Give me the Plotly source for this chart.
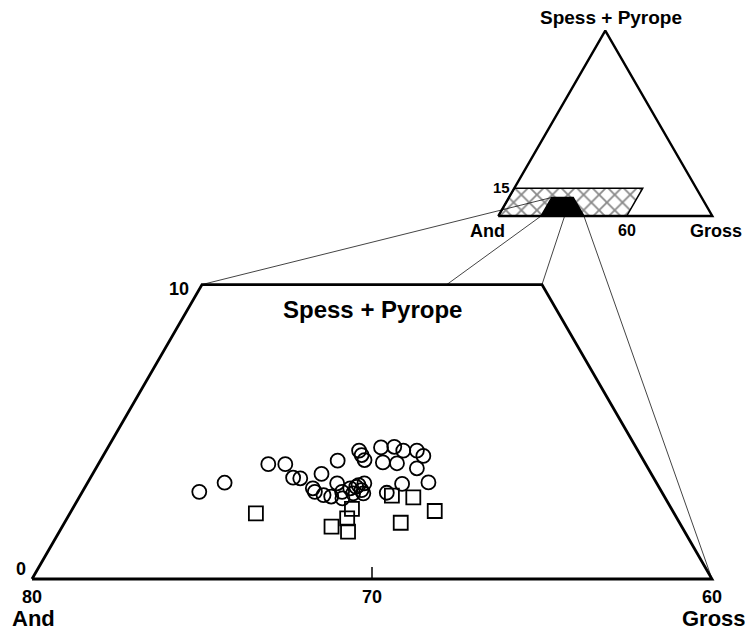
import numpy as np
import plotly.graph_objects as go

# ---------------- data (ternary percentages) ----------------
# sample points: Andradite % and Spessartine+Pyrope %, Grossular = 100 - And - SP
circle_and = [73.6, 72.7, 71.1, 70.6, 70.6, 70.4, 69.7, 69.0, 68.2, 68.2, 68.2, 67.5,
              67.1, 66.9, 66.5, 66.4, 67.7, 67.3, 66.8, 66.7, 67.5, 68.1, 70.2, 70.2,
              70.0, 69.8, 69.4, 69.5, 69.4, 69.1, 68.9, 68.8, 68.6, 68.8, 69.1, 68.8]
circle_sp = [2.96, 3.27, 3.90, 3.90, 3.44, 3.42, 3.57, 4.02, 4.36, 4.21, 4.04, 4.47,
             4.49, 4.36, 4.36, 4.18, 3.96, 3.93, 3.76, 3.28, 3.23, 2.93, 3.08, 2.96,
             2.85, 2.80, 3.25, 2.74, 2.96, 3.08, 3.13, 3.19, 3.25, 2.91, 2.91, 3.02]
square_and = [72.3, 70.3, 69.7, 69.9, 69.4, 68.0, 67.4, 67.0, 68.2]
square_sp = [2.23, 1.78, 2.06, 1.61, 2.38, 2.83, 2.77, 2.31, 1.91]

# zoomed field (main diagram): And 60-80, SP 0-10
field_and = [80, 60, 60, 70, 80]
field_sp = [0, 0, 10, 10, 0]
bottom_ticks = [80, 70, 60]     # And %
side_ticks = [0, 10]            # Spess + Pyrope %

# inset full triangle (SP, Gross)
tri_sp = [0, 0, 100, 0]
tri_gross = [0, 100, 0, 0]
# hatched band: SP 0-15, Gross 0-60
band_sp = [0, 0, 15, 15, 0]
band_gross = [0, 60, 60, 0, 0]
band_label_sp = 15
band_label_gross = 60

# connector lines: (SP, Gross) in main diagram -> (SP, Gross) in inset
conn_main_sp = [10, 10, 10, 0]
conn_main_gross = [20, 27.2, 30, 40]
conn_inset_sp = [10, 0, 0, 0]
conn_inset_gross = [20, 20, 31, 40]

# ---------------- frames (screen placement of each ternary view) ----------------
H = np.sqrt(3) / 2
MAIN = dict(x0=32.0, y0=579.0, k=34.0, gmin=20.0)
INSET = dict(x0=498.3, y0=216.0, k=2.14, gmin=0.0)
PAGE_OFFSET = 8  # default body margin of the html page


def tern(frame, sp, gross):
    sp = np.asarray(sp, float)
    gross = np.asarray(gross, float)
    x = frame["x0"] + (gross + sp / 2 - frame["gmin"]) * frame["k"]
    y = frame["y0"] - sp * H * frame["k"]
    return x, y


def main_xy(and_, sp):
    and_ = np.asarray(and_, float)
    sp = np.asarray(sp, float)
    return tern(MAIN, sp, 100 - and_ - sp)


fig = go.Figure()
FONT = "Liberation Sans, Arial, sans-serif"

# connectors
cmx, cmy = tern(MAIN, conn_main_sp, conn_main_gross)
cix, ciy = tern(INSET, conn_inset_sp, conn_inset_gross)
for i in range(len(cmx)):
    fig.add_trace(go.Scatter(x=[cmx[i], cix[i]], y=[cmy[i], ciy[i]], mode="lines",
                             line=dict(color="#444444", width=1), hoverinfo="skip"))

# inset hatched band
bx, by = tern(INSET, band_sp, band_gross)
fig.add_trace(go.Scatter(x=bx, y=by, mode="lines", fill="toself",
                         fillcolor="rgba(255,255,255,0)",
                         fillpattern=dict(shape="x", fgcolor="#111111", bgcolor="rgba(255,255,255,0)",
                                          size=11, solidity=0.3),
                         line=dict(color="black", width=1.5), hoverinfo="skip"))
# inset black area = main field
fx, fy = tern(INSET, field_sp, [100 - a - s for a, s in zip(field_and, field_sp)])
fig.add_trace(go.Scatter(x=fx, y=fy, mode="lines", fill="toself", fillcolor="black",
                         line=dict(color="black", width=1.5), hoverinfo="skip"))
# inset triangle
tx, ty = tern(INSET, tri_sp, tri_gross)
fig.add_trace(go.Scatter(x=tx, y=ty, mode="lines", line=dict(color="black", width=2.4),
                         hoverinfo="skip"))

# main field outline
mx, my = main_xy(field_and, field_sp)
fig.add_trace(go.Scatter(x=mx, y=my, mode="lines", line=dict(color="black", width=2.8),
                         hoverinfo="skip"))
# 70 tick
tkx, tky = main_xy([70], [0])
fig.add_trace(go.Scatter(x=[tkx[0], tkx[0]], y=[tky[0], tky[0] - 12], mode="lines",
                         line=dict(color="black", width=1.5), hoverinfo="skip"))

# data points
cx, cy = main_xy(circle_and, circle_sp)
fig.add_trace(go.Scatter(x=cx, y=cy, mode="markers",
                         marker=dict(symbol="circle-open", size=14, color="black",
                                     line=dict(width=1.8, color="black"))))
sx, sy = main_xy(square_and, square_sp)
fig.add_trace(go.Scatter(x=sx, y=sy, mode="markers",
                         marker=dict(symbol="square-open", size=14, color="black",
                                     line=dict(width=1.8, color="black"))))


def label(text, x, y, size, xanchor="center", yanchor="middle", dx=0, dy=0):
    fig.add_annotation(x=x, y=y, text=text, showarrow=False, xanchor=xanchor, yanchor=yanchor,
                       xshift=dx, yshift=dy, borderpad=0,
                       font=dict(family=FONT, size=size, color="black", weight="bold"))


# main labels
for a in bottom_ticks:
    x, y = main_xy([a], [0])
    label(str(a), x[0], y[0], 18, dy=-18)
x, y = main_xy([80], [0])
label("And", x[0], y[0], 22, dy=-39, dx=1)
x, y = main_xy([60], [0])
label("Gross", x[0], y[0], 22, dy=-39, dx=2)
for s in side_ticks:
    x, y = tern(MAIN, [s], [20])
    label(str(s), x[0], y[0], 18, xanchor="right", dx=-12 if s else -5, dy=-4 if s else 10)
x, y = main_xy([65], [10])
label("Spess + Pyrope", x[0], y[0], 24, dy=-25)

# inset labels
x, y = tern(INSET, [100], [0])
label("Spess + Pyrope", x[0], y[0], 19, dy=13, dx=6)
x, y = tern(INSET, [0], [0])
label("And", x[0], y[0], 18, dy=-15, dx=-11)
x, y = tern(INSET, [0], [100])
label("Gross", x[0], y[0], 18, dy=-15, dx=4)
x, y = tern(INSET, [band_label_sp], [0])
label(str(band_label_sp), x[0], y[0], 15, xanchor="right", dx=-3, dy=1)
x, y = tern(INSET, [0], [band_label_gross])
label(str(band_label_gross), x[0], y[0], 16, dy=-14)

W, Hh = 753 - PAGE_OFFSET, 632 - PAGE_OFFSET
fig.update_layout(width=W, height=Hh, margin=dict(l=0, r=0, t=0, b=0),
                  paper_bgcolor="white", plot_bgcolor="white", showlegend=False,
                  xaxis=dict(range=[PAGE_OFFSET, 753], visible=False, fixedrange=True),
                  yaxis=dict(range=[632, PAGE_OFFSET], visible=False, fixedrange=True))
fig.write_html("out.html")
